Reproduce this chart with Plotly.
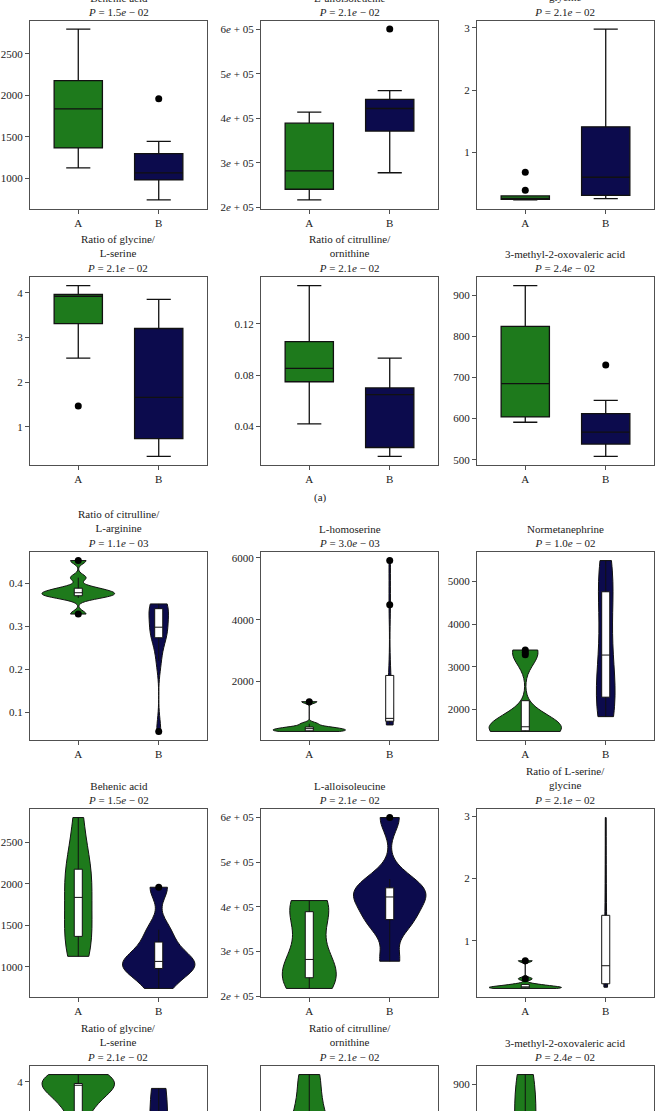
import numpy as np
import plotly.graph_objects as go

W, H = 655, 1111
FONT = "Liberation Serif"
GREEN = "#1e7a1c"
NAVY = "#0c0b4d"
INK = "#222222"
FRAME = "#505050"
GROUPS = ["A", "B"]

# ---- sample values per metabolite ----
BEHENIC_A = [1127, 1300, 1390, 1700, 1975, 2150, 2260, 2800]
BEHENIC_B = [740, 960, 988, 1040, 1092, 1250, 1447, 1960]
ALLOILE_A = [217000, 235000, 243000, 262000, 302000, 386000, 398000, 414000]
ALLOILE_B = [278000, 360000, 375000, 415000, 429000, 436000, 462000, 600000]
SER_GLY_A = [0.235, 0.24, 0.245, 0.25, 0.26, 0.28, 0.30, 0.39, 0.68]
SER_GLY_B = [0.255, 0.28, 0.31, 0.45, 0.60, 0.90, 1.41, 2.1, 2.98]
GLY_SER_A = [1.47, 2.54, 3.31, 3.60, 3.92, 3.94, 3.96, 4.05, 4.16]
GLY_SER_B = [0.34, 0.55, 0.74, 1.1, 1.66, 2.6, 3.2, 3.5, 3.85]
CIT_ORN_A = [0.0419, 0.065, 0.0748, 0.080, 0.0852, 0.095, 0.1062, 0.125, 0.1499]
CIT_ORN_B = [0.0165, 0.020, 0.0235, 0.045, 0.0648, 0.067, 0.070, 0.082, 0.0933]
MOV_A = [591, 598, 604, 640, 685, 760, 824, 880, 923]
MOV_B = [508, 525, 538, 555, 567, 590, 612, 644, 730]
CIT_ARG_A = [0.3285, 0.366, 0.370, 0.374, 0.376, 0.380, 0.384, 0.390, 0.413, 0.4527]
CIT_ARG_B = [0.056, 0.22, 0.272, 0.278, 0.292, 0.304, 0.335, 0.343, 0.348, 0.352]
HOMOSER_A = [390, 400, 410, 440, 480, 500, 533, 640, 1352]
HOMOSER_B = [600, 680, 720, 760, 813, 1500, 2200, 4486, 5912]
NORMET_A = [1488, 1492, 1498, 1505, 1550, 1580, 1615, 1650, 1850, 3283, 3337, 3394]
NORMET_B = [1835, 1900, 2150, 2337, 2600, 3050, 3502, 4000, 4700, 4928, 5200, 5488]

# ---- titles ----
T_BEH = "Behenic acid<br><i>P</i> = 1.5<i>e</i> − 02"
T_ALLO = "L-alloisoleucine<br><i>P</i> = 2.1<i>e</i> − 02"
T_SERGLY = "Ratio of L-serine/<br>glycine<br><i>P</i> = 2.1<i>e</i> − 02"
T_GLYSER = "Ratio of glycine/<br>L-serine<br><i>P</i> = 2.1<i>e</i> − 02"
T_CITORN = "Ratio of citrulline/<br>ornithine<br><i>P</i> = 2.1<i>e</i> − 02"
T_MOV = "3-methyl-2-oxovaleric acid<br><i>P</i> = 2.4<i>e</i> − 02"
T_CITARG = "Ratio of citrulline/<br>L-arginine<br><i>P</i> = 1.1<i>e</i> − 03"
T_HOMO = "L-homoserine<br><i>P</i> = 3.0<i>e</i> − 03"
T_NORM = "Normetanephrine<br><i>P</i> = 1.0<i>e</i> − 02"

# ---- tick values ----
TK_BEH = [1000, 1500, 2000, 2500]
TK_ALLO = [200000, 300000, 400000, 500000, 600000]
TT_ALLO = ["2<i>e</i> + 05", "3<i>e</i> + 05", "4<i>e</i> + 05", "5<i>e</i> + 05", "6<i>e</i> + 05"]
TK_SERGLY = [1, 2, 3]
TK_GLYSER = [1, 2, 3, 4]
TK_CITORN = [0.04, 0.08, 0.12]
TK_MOV = [500, 600, 700, 800, 900]
TK_CITARG = [0.1, 0.2, 0.3, 0.4]
TK_HOMO = [2000, 4000, 6000]
TK_NORM = [2000, 3000, 4000, 5000]

PANELS = [
    ("box", 0, 0, T_BEH, BEHENIC_A, BEHENIC_B, TK_BEH, None),
    ("box", 0, 1, T_ALLO, ALLOILE_A, ALLOILE_B, TK_ALLO, TT_ALLO),
    ("box", 0, 2, T_SERGLY, SER_GLY_A, SER_GLY_B, TK_SERGLY, None),
    ("box", 1, 0, T_GLYSER, GLY_SER_A, GLY_SER_B, TK_GLYSER, None),
    ("box", 1, 1, T_CITORN, CIT_ORN_A, CIT_ORN_B, TK_CITORN, None),
    ("box", 1, 2, T_MOV, MOV_A, MOV_B, TK_MOV, None),
    ("violin", 2, 0, T_CITARG, CIT_ARG_A, CIT_ARG_B, TK_CITARG, None),
    ("violin", 2, 1, T_HOMO, HOMOSER_A, HOMOSER_B, TK_HOMO, None),
    ("violin", 2, 2, T_NORM, NORMET_A, NORMET_B, TK_NORM, None),
    ("violin", 3, 0, T_BEH, BEHENIC_A, BEHENIC_B, TK_BEH, None),
    ("violin", 3, 1, T_ALLO, ALLOILE_A, ALLOILE_B, TK_ALLO, TT_ALLO),
    ("violin", 3, 2, T_SERGLY, SER_GLY_A, SER_GLY_B, TK_SERGLY, None),
    ("violin", 4, 0, T_GLYSER, GLY_SER_A, GLY_SER_B, TK_GLYSER, None),
    ("violin", 4, 1, T_CITORN, CIT_ORN_A, CIT_ORN_B, TK_CITORN, None),
    ("violin", 4, 2, T_MOV, MOV_A, MOV_B, TK_MOV, None),
]

COL_X = [30, 261, 477]
PW = 177
ROW_Y = [20.5, 277, 552, 809, 1066]
PH = 188
VIOLIN_MAXW = 0.9


def box_stats(v):
    v = np.sort(np.asarray(v, float))
    q1, med, q3 = np.percentile(v, [25, 50, 75])
    iqr = q3 - q1
    lo_f, hi_f = q1 - 1.5 * iqr, q3 + 1.5 * iqr
    inside = v[(v >= lo_f) & (v <= hi_f)]
    out = v[(v < lo_f) | (v > hi_f)]
    return q1, med, q3, inside.min(), inside.max(), out


def bw_nrd0(v):
    v = np.asarray(v, float)
    q1, q3 = np.percentile(v, [25, 75])
    s = min(np.std(v, ddof=1), (q3 - q1) / 1.34)
    return 0.9 * s * len(v) ** -0.2


def kde_peak(v, bw):
    v = np.asarray(v, float)
    t = np.linspace(v.min(), v.max(), 512)
    d = np.exp(-0.5 * ((t[:, None] - v[None, :]) / bw) ** 2).sum(axis=1)
    return (d / (len(v) * bw * np.sqrt(2 * np.pi))).max()


fig = go.Figure()
layout = dict()
annotations = []

for k, (kind, r, c, title, va, vb, tv, tt) in enumerate(PANELS, start=1):
    xa = "x" if k == 1 else f"x{k}"
    ya = "y" if k == 1 else f"y{k}"
    xname = "xaxis" if k == 1 else f"xaxis{k}"
    yname = "yaxis" if k == 1 else f"yaxis{k}"
    left = COL_X[c]
    top = ROW_Y[r]
    bottom = min(top + PH, H)
    partial = top + PH > H

    allv = np.concatenate([va, vb])
    lo, hi = allv.min(), allv.max()
    span = hi - lo
    rng = [lo - 0.05 * span, hi + 0.05 * span]
    if partial:
        frac = (H - top) / PH
        rng = [rng[1] - frac * (rng[1] - rng[0]), rng[1]]

    if kind == "violin":
        bws = [bw_nrd0(va), bw_nrd0(vb)]
        peaks = [kde_peak(va, bws[0]), kde_peak(vb, bws[1])]
        pmax = max(peaks)
        for g, v, col, bw, pk in zip(GROUPS, [va, vb], [GREEN, NAVY], bws, peaks):
            fig.add_trace(go.Violin(
                x=[g] * len(v), y=v, xaxis=xa, yaxis=ya,
                fillcolor=col, line=dict(color="#111111", width=1),
                width=VIOLIN_MAXW * pk / pmax, bandwidth=bw,
                spanmode="hard", scalemode="width", scalegroup=f"p{k}{g}",
                points=False, box_visible=False, meanline_visible=False,
                showlegend=False, hoverinfo="skip"))
    for g, v, col in zip(GROUPS, [va, vb], [GREEN, NAVY]):
        q1, med, q3, lw, uw, out = box_stats(v)
        if kind == "box":
            fig.add_trace(go.Box(
                x=[g], q1=[q1], median=[med], q3=[q3], lowerfence=[lw], upperfence=[uw],
                xaxis=xa, yaxis=ya, fillcolor=col, line=dict(color="#111111", width=1.3),
                width=0.6, whiskerwidth=0.5, boxpoints=False, showlegend=False))
        else:
            fig.add_trace(go.Box(
                x=[g], q1=[q1], median=[med], q3=[q3], lowerfence=[lw], upperfence=[uw],
                xaxis=xa, yaxis=ya, fillcolor="white", line=dict(color="#111111", width=1),
                width=0.1, whiskerwidth=0, boxpoints=False, showlegend=False))
    for g, v in zip(GROUPS, [va, vb]):
        out = box_stats(v)[5]
        if len(out):
            fig.add_trace(go.Scatter(
                x=[g] * len(out), y=out, xaxis=xa, yaxis=ya, mode="markers",
                marker=dict(color="black", size=7), showlegend=False, cliponaxis=False))

    xd = [left / W, (left + PW) / W]
    yd = [1 - bottom / H, 1 - top / H]
    ax_common = dict(showline=True, linecolor=FRAME, linewidth=1.3, showgrid=False,
                     zeroline=False, ticks="outside", ticklen=4, tickcolor=FRAME,
                     tickwidth=1, tickfont=dict(family=FONT, size=11, color=INK),
                     automargin=False, fixedrange=True)
    xaxis = dict(ax_common, type="category", categoryorder="array",
                 categoryarray=GROUPS, range=[-0.6, 1.6], domain=xd, anchor=ya)
    if partial:
        xaxis.update(side="top", mirror=False, showticklabels=False, ticks="")
    else:
        xaxis.update(mirror=True)
    yaxis = dict(ax_common, range=rng, domain=yd, anchor=xa, mirror=True, tickvals=tv)
    if tt is not None:
        yaxis["ticktext"] = tt
    layout[xname] = xaxis
    layout[yname] = yaxis

    annotations.append(dict(
        text=title, x=(left + PW / 2) / W, y=1 - top / H, xref="paper", yref="paper",
        xanchor="center", yanchor="bottom", yshift=1, showarrow=False, align="center",
        font=dict(family=FONT, size=11, color=INK)))

annotations.append(dict(
    text="(a)", x=320 / W, y=1 - 498 / H, xref="paper", yref="paper",
    xanchor="center", yanchor="middle", showarrow=False,
    font=dict(family=FONT, size=11, color=INK)))

fig.update_layout(
    width=W, height=H, margin=dict(l=0, r=0, t=0, b=0),
    paper_bgcolor="white", plot_bgcolor="white", showlegend=False,
    font=dict(family=FONT, size=11, color=INK),
    boxmode="overlay", violinmode="overlay",
    annotations=annotations, **layout)

fig.write_html("out.html", config={"displayModeBar": False},
               post_script="document.body.style.margin='0';document.body.style.overflow='hidden';")
